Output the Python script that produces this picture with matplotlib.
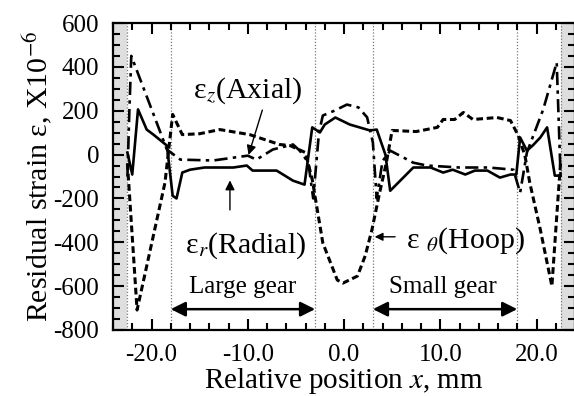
import matplotlib
matplotlib.use("Agg")
import matplotlib.pyplot as plt
from matplotlib.ticker import MultipleLocator

plt.rcParams['font.family'] = ['Liberation Serif', 'DejaVu Serif']
plt.rcParams['mathtext.fontset'] = 'stix'

# ---- data ----
radial_x = [-22.5, -22.0, -21.4, -20.5, -19.8, -18.4, -17.8, -17.4, -16.8, -16.0, -14.5, -11.5, -10.1, -9.5,
            -7.0, -5.3, -4.1, -3.3, -2.5, -2.0, -0.9, 0.6, 2.7, 3.4, 4.3, 4.8, 7.2, 9.0, 10.3, 11.3, 12.6,
            13.6, 14.9, 16.2, 17.3, 17.9, 18.3, 19.0, 19.6, 20.4, 21.1, 21.9, 22.5]
radial_y = [9, -91, 206, 114, 91, 41, -188, -200, -82, -69, -59, -59, -50, -73,
            -73, -119, -137, 124, 101, 137, 169, 137, 110, 114, 0, -165, -59, -59, -82, -69, -91,
            -73, -73, -105, -91, -91, 78, 18, 41, 78, 124, -96, -96]

axial_x = [-22.5, -22.3, -22.1, -18.4, -17.0, -13.6, -10.0, -9.1, -7.4, -5.3, -4.6, -3.7, -3.2, -2.6,
           -2.2, -1.0, 0.3, 1.5, 2.4, 3.0, 3.4, 4.0, 4.8, 7.2, 8.6, 12.0, 15.0, 17.6, 18.3, 19.0,
           20.7, 22.1, 22.5]
axial_y = [-100, 200, 450, 23, -23, -27, -5, -23, 23, 46, 18, -37, -200, 100,
           178, 200, 228, 215, 170, 55, -200, -30, 18, -37, -50, -59, -59, -69, -174, 9,
           206, 420, -96]

hoop_x = [-22.5, -21.5, -18.6, -17.8, -16.8, -15.0, -12.9, -9.8, -6.7, -5.6, -4.0, -3.3, -2.2, -0.7,
          -0.1, 1.4, 2.2, 2.9, 3.7, 4.4, 5.0, 7.5, 9.7, 10.3, 11.5, 12.4, 13.4, 15.9, 17.3, 18.1,
          18.8, 19.3, 20.4, 21.6, 22.2, 22.5]
hoop_y = [-40, -709, -128, 183, 91, 95, 114, 91, 46, 41, 9, -114, -403, -572,
          -586, -554, -462, -343, -174, -37, 110, 105, 124, 160, 160, 192, 160, 169, 155, 87,
          -5, -128, -343, -600, -220, -37]

xticks = [-20, -10, 0, 10, 20]
xticklabels = ['-20.0', '-10.0', '0.0', '10.0', '20.0']
yticks = [-800, -600, -400, -200, 0, 200, 400, 600]
yticklabels = ['-800', '-600', '-400', '-200', '0', '200', '400', '600']
vlines = [-22.5, -18, -3, 3, 18, 22.5]

fig = plt.figure(figsize=(5.74, 3.96), dpi=100)
ax = fig.add_axes([113/574, 66/396, 462/574, 307/396])
ax.set_xlim(-24, 24)
ax.set_ylim(-800, 600)

ax.axvspan(-24, -22.5, color='#dedede', lw=0, zorder=0)
ax.axvspan(22.5, 24, color='#dedede', lw=0, zorder=0)
for v in vlines:
    ax.axvline(v, color='#777777', lw=0.9, ls=(0, (1, 1.5)), zorder=1)

ax.plot(radial_x, radial_y, color='black', lw=1.9, ls='-', zorder=3)
ax.plot(axial_x, axial_y, color='black', lw=1.9, ls=(0, (5, 2, 1.3, 2)), zorder=3)
ax.plot(hoop_x, hoop_y, color='black', lw=2.2, ls=(0, (2.2, 1.2)), zorder=3)

ax.set_xticks(xticks)
ax.set_xticklabels(xticklabels)
ax.set_yticks(yticks)
ax.set_yticklabels(yticklabels)
ax.xaxis.set_minor_locator(MultipleLocator(2))
ax.yaxis.set_minor_locator(MultipleLocator(50))
ax.tick_params(which='both', direction='in', top=True, right=True, width=1.5, labelsize=18)
ax.tick_params(which='major', length=8, pad=10)
ax.tick_params(which='minor', length=5)
for s in ax.spines.values():
    s.set_linewidth(1.6)

ax.set_xlabel('Relative position $x$, mm', fontsize=21, labelpad=0)
ax.set_ylabel('Residual strain ε, X10$^{-6}$', fontsize=21.5, labelpad=-1)

ax.text(-10.0, 293, 'ε$_z$(Axial)', fontsize=21.5, ha='center', va='center')
ax.annotate('', xy=(-10.0, -14), xytext=(-8.4, 215),
            arrowprops=dict(arrowstyle='-|>', color='black', lw=1.0, mutation_scale=14))
ax.text(-10.2, -416, 'ε$_r$(Radial)', fontsize=21.5, ha='center', va='center')
ax.annotate('', xy=(-11.85, -105), xytext=(-11.85, -265),
            arrowprops=dict(arrowstyle='-|>', color='black', lw=1.0, mutation_scale=14))
ax.text(12.6, -394, 'ε $_\\theta$(Hoop)', fontsize=21.5, ha='center', va='center')
ax.annotate('', xy=(2.9, -375), xytext=(5.6, -375),
            arrowprops=dict(arrowstyle='-|>', color='black', lw=1.0, mutation_scale=12))

ax.text(-10.5, -604, 'Large gear', fontsize=18, ha='center', va='center')
ax.text(10.3, -604, 'Small gear', fontsize=18, ha='center', va='center')
for a, b in [(-18, -3), (3, 18)]:
    ax.annotate('', xy=(a, -705), xytext=(b, -705),
                arrowprops=dict(arrowstyle='<|-|>', color='black', lw=1.8, mutation_scale=22,
                                shrinkA=0, shrinkB=0))

fig.savefig('out.png', dpi=100)
